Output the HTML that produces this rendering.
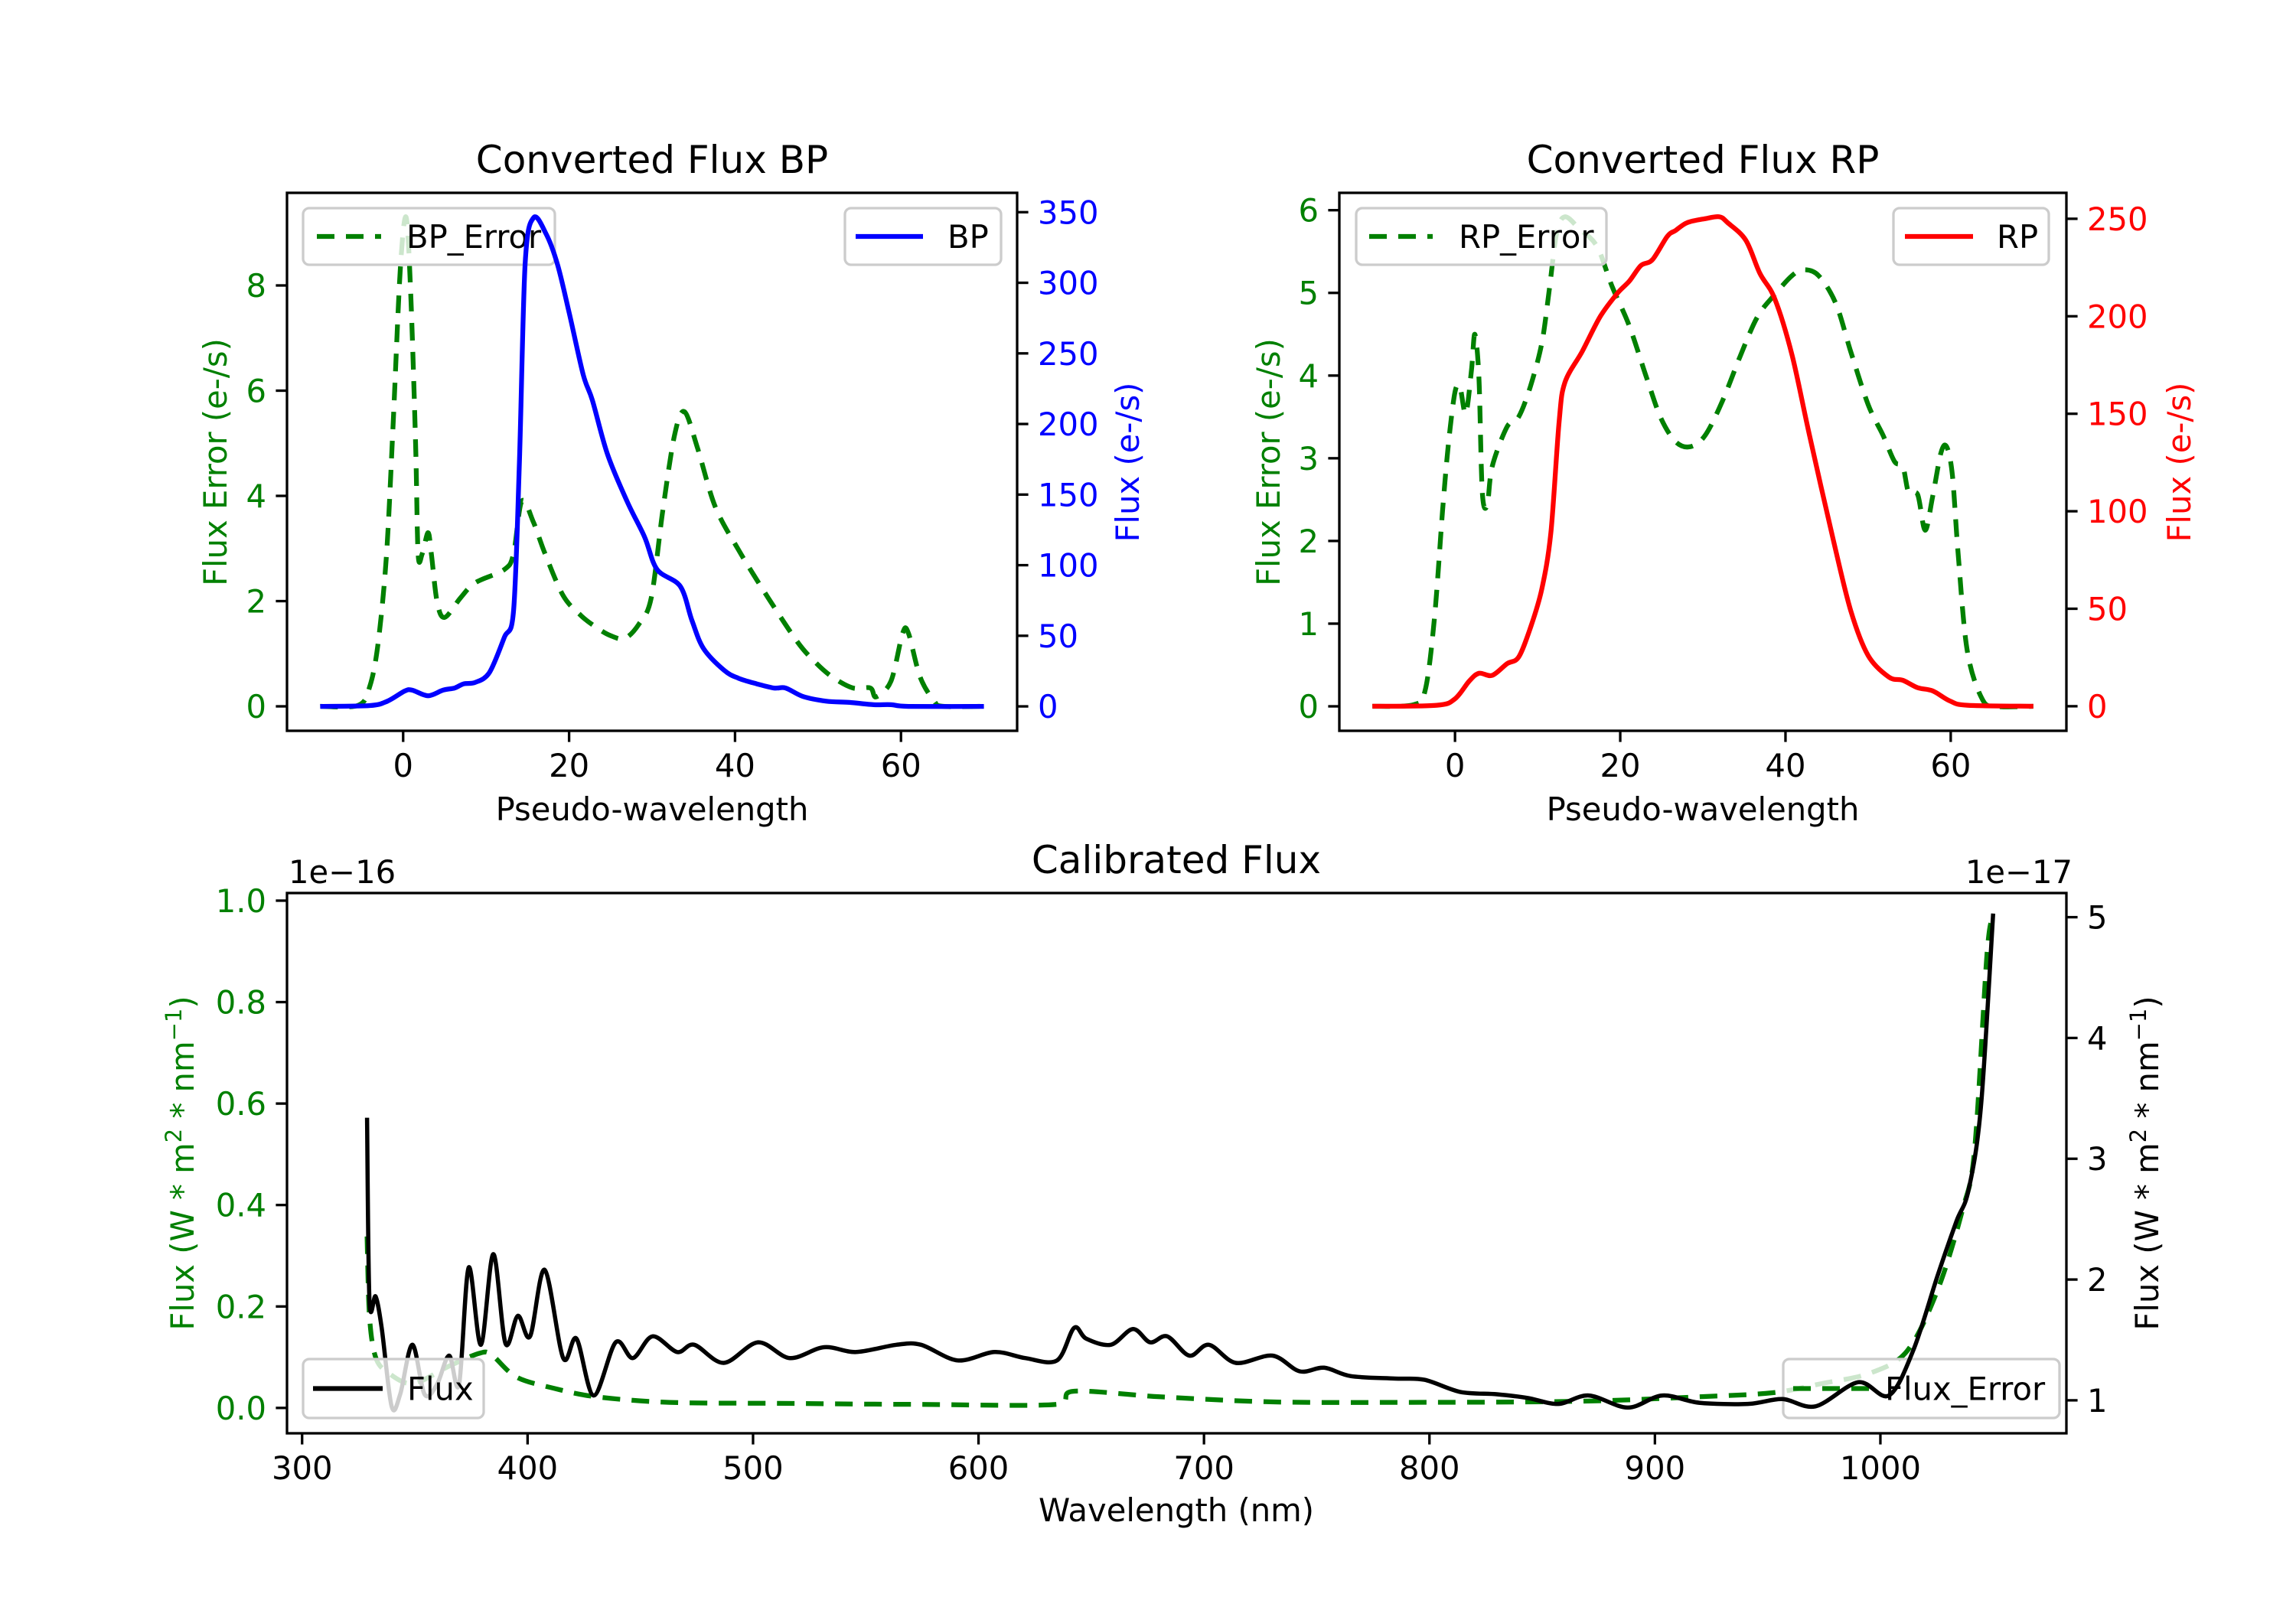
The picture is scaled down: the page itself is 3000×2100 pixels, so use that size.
<!DOCTYPE html>
<html><head><meta charset="utf-8"><style>
html,body{margin:0;padding:0;background:#fff;}
svg{display:block;font-family:"DejaVu Sans","Liberation Sans",sans-serif;}
</style></head><body>
<svg id="fig" xmlns="http://www.w3.org/2000/svg" width="3000" height="2100" viewBox="0 0 3000 2100">
<rect width="3000" height="2100" fill="#fff"/>
</svg>
<script>
// ---- BP panel data ----
const bpX = [-10,-4,-1.9,0.2,1.1,3.0,4.8,6.2,7.3,8.7,10.4,12.2,13.3,14.0,14.7,15.7,17.2,18.6,20.0,21.7,22.8,24.6,27.0,29.1,30.6,33.4,34.8,36.2,38.7,40.4,42.6,44.7,46.1,48.2,51.0,53.8,56.7,58.8,60.9,70];
const bpY = [0,0.6,3.7,10.9,11.5,7.5,11.5,13,16,17,24,49,67.5,170,313,346,335,313,279,235,217,179,145,120,97,85,61,41,25.5,20,16,13,13,7,3.7,2.8,1.2,1.2,0,0];
const bpErrX = [-10,-5.4,-4.0,-3.0,-2.0,-1.2,-0.35,0.35,0.9,1.5,1.8,2.3,3.0,3.4,4.1,5.0,6.9,8.7,12.2,13.3,14.3,15.7,17.1,19.3,21.4,23.1,24.9,26.7,28.4,29.9,31.3,32.7,33.9,35.5,37.6,40.4,44.0,47.5,49.6,51.7,54.2,56.3,57.0,58.8,60.2,60.9,62.3,64.0,65.1,70];
const bpErrY = [0,0.02,0.39,1.23,2.9,5.4,8.3,9.3,7.9,5.0,2.9,2.9,3.3,2.9,1.98,1.69,2.06,2.35,2.6,2.9,3.9,3.5,2.9,2.1,1.73,1.52,1.35,1.29,1.56,2.06,3.73,5.15,5.6,4.9,3.8,2.98,2.06,1.23,0.85,0.56,0.35,0.35,0.18,0.48,1.39,1.39,0.56,0.1,0,0];
const bpLeftTicks = [0,2,4,6,8];
const bpRightTicks = [0,50,100,150,200,250,300,350];
// ---- RP panel data ----
const rpX = [-10,-2.2,0,1.7,2.9,4.5,6.3,7.7,9.1,10.5,11.6,12.6,13.3,15.4,17.6,19.7,21.1,22.5,23.9,25.7,26.7,28.1,30.2,32.0,33.0,35.2,36.9,38.7,40.8,42.9,45.8,47.9,50.0,52.5,54.2,56.0,57.8,59.9,62.0,70];
const rpY = [0,0.5,3.8,12.8,16.9,15.8,21.8,25.2,39.9,60,89,146,166,182,200,212,218,226,229,241,244,248,250,251,248,239,222,209,180,139,85,49,26,15,13.3,9.5,7.9,2.7,0.5,0];
const rpErrX = [-10,-5.0,-3.6,-2.5,-1.5,-0.8,0,0.6,1.3,2.0,2.4,2.9,3.3,3.9,4.5,6.3,7.7,9.1,10.5,11.4,12.3,13.3,15.1,17.2,19.0,21.1,23.2,24.9,26.7,28.5,30.3,32.4,34.5,36.6,38.7,40.8,42.2,44.0,46.1,47.9,50.0,51.8,53.2,54.2,54.9,56.0,56.9,57.8,58.8,59.5,60.2,60.9,62.0,63.8,65.5,70];
const rpErrY = [0,0.02,0.2,1.05,2.37,3.17,3.8,3.86,3.54,4.07,4.5,3.97,2.59,2.43,2.9,3.38,3.5,3.86,4.39,5.03,5.72,5.92,5.77,5.56,5.08,4.6,3.97,3.49,3.2,3.14,3.28,3.7,4.23,4.71,4.98,5.21,5.28,5.21,4.87,4.29,3.65,3.28,2.96,2.9,2.59,2.56,2.13,2.53,3.06,3.14,2.8,1.84,0.67,0.09,0,0];
const rpLeftTicks = [0,1,2,3,4,5,6];
const rpRightTicks = [0,50,100,150,200,250];
const pseudoTicks = [0,20,40,60];
// ---- Calibrated panel data ----
const wlX = [328.8,329.9,332.6,335.3,339.7,343.5,348.9,354.3,359.8,365.2,369.6,373.9,379.3,384.8,390.2,395.7,401.1,407.6,415.8,421.7,429.3,439.1,446.7,455.4,466.3,473.9,487.0,502.2,516.3,531.5,545.7,563.6,574.5,590.8,607.1,620.7,634.8,642.4,647.8,658.7,668.5,676.1,683.7,693.5,702.2,714.1,730.4,742.4,753.3,765.2,784.8,797.8,813.6,829.9,843.5,857.1,870.7,888.0,903.3,919.6,941.3,956.5,971.2,990.2,1003.8,1014.7,1025.5,1033.7,1039.1,1044.6,1050.0];
const fluxY = [3.34,1.82,1.86,1.60,0.95,1.05,1.46,1.05,1.13,1.37,1.13,2.10,1.46,2.21,1.47,1.70,1.53,2.08,1.35,1.51,1.04,1.48,1.35,1.53,1.40,1.46,1.31,1.48,1.35,1.44,1.40,1.46,1.46,1.33,1.40,1.35,1.33,1.60,1.51,1.46,1.59,1.48,1.53,1.37,1.46,1.31,1.37,1.24,1.27,1.20,1.18,1.17,1.07,1.05,1.02,0.97,1.04,0.94,1.04,0.98,0.97,1.01,0.95,1.15,1.04,1.42,2.04,2.48,2.74,3.43,5.03];
const errWlX = [328.8,329.9,332.6,338,349,365,378.8,384.2,395,411.4,430.4,463,512,571.7,634.8,642.4,680.4,729.3,789,865,919.6,952.2,974,995.7,1012,1025.5,1036.4,1041.8,1047.3,1050];
const fluxErrY = [0.338,0.18,0.10,0.07,0.048,0.082,0.108,0.104,0.061,0.039,0.022,0.011,0.009,0.007,0.007,0.033,0.022,0.012,0.011,0.013,0.022,0.030,0.048,0.069,0.113,0.234,0.39,0.51,0.896,0.97];
const wlTicks = [300,400,500,600,700,800,900,1000];
const calLeftTicks = [0.0,0.2,0.4,0.6,0.8,1.0];
const calRightTicks = [1,2,3,4,5];

const NS="http://www.w3.org/2000/svg";
const svg=document.getElementById('fig');
function mk(tag,attrs,parent){const e=document.createElementNS(NS,tag);for(const k in attrs)e.setAttribute(k,attrs[k]);(parent||svg).appendChild(e);return e;}
function scale(d0,d1,p0,p1){return v=>p0+(v-d0)*(p1-p0)/(d1-d0);}
// smooth monotone-x Catmull-Rom path
function pathD(xs,ys,sx,sy){
  const P=xs.map((x,i)=>[sx(x),sy(ys[i])]);
  let d='M'+P[0][0].toFixed(1)+' '+P[0][1].toFixed(1);
  for(let i=0;i<P.length-1;i++){
    const p0=P[Math.max(0,i-1)],p1=P[i],p2=P[i+1],p3=P[Math.min(P.length-1,i+2)];
    const t=0.16;
    let c1x=p1[0]+(p2[0]-p0[0])*t,c1y=p1[1]+(p2[1]-p0[1])*t;
    let c2x=p2[0]-(p3[0]-p1[0])*t,c2y=p2[1]-(p3[1]-p1[1])*t;
    c1x=Math.min(Math.max(c1x,p1[0]),p2[0]);c2x=Math.min(Math.max(c2x,p1[0]),p2[0]);
    d+=' C'+c1x.toFixed(1)+' '+c1y.toFixed(1)+' '+c2x.toFixed(1)+' '+c2y.toFixed(1)+' '+p2[0].toFixed(1)+' '+p2[1].toFixed(1);
  }
  return d;
}
const FS=41.7;
function txt(x,y,s,opt){const t=mk('text',Object.assign({x:x,y:y,'font-size':FS,fill:'#000'},opt||{}));t.textContent=s;return t;}

function drawLegend(g,lg){
  const lgG=mk('g',{},g);
  
  
  mk('rect',{x:lg.x0,y:lg.y0,width:lg.x1-lg.x0,height:lg.y1-lg.y0,rx:8,fill:'#fff','fill-opacity':0.8,stroke:'#cccccc','stroke-width':3.3},lgG);
  const ym=(lg.y0+lg.y1)/2;
  mk('line',{x1:lg.l0,x2:lg.l1,y1:ym,y2:ym,stroke:lg.color,'stroke-width':6.25,'stroke-dasharray':lg.dash?'23 15':'none'},lgG);
  lgG.appendChild(txt(lg.tx,ym+15,lg.label,{}));
}

function panel(cfg){
  const g=mk('g',{});
  
  
  const sx=scale(cfg.xlim[0],cfg.xlim[1],cfg.L,cfg.R);
  const syL=scale(cfg.ylimL[0],cfg.ylimL[1],cfg.B,cfg.T);
  const syR=scale(cfg.ylimR[0],cfg.ylimR[1],cfg.B,cfg.T);
  const clipId='clip_'+cfg.name;
  const cp=mk('clipPath',{id:clipId},g);mk('rect',{x:cfg.L,y:cfg.T,width:cfg.R-cfg.L,height:cfg.B-cfg.T},cp);
  const errP=mk('path',{d:pathD(cfg.errX,cfg.errY,sx,syL),fill:'none',stroke:'#008000','stroke-width':6.25,'stroke-dasharray':'23 15','clip-path':'url(#'+clipId+')'},g);
  
  
  drawLegend(g,cfg.legends[0]);
  const mainP=mk('path',{d:pathD(cfg.mainX,cfg.mainY,sx,syR),fill:'none',stroke:cfg.mainColor,'stroke-width':cfg.mainW||6.25,'stroke-linejoin':'round','clip-path':'url(#'+clipId+')'},g);
  
  
  drawLegend(g,cfg.legends[1]);
  const sp=mk('rect',{x:cfg.L,y:cfg.T,width:cfg.R-cfg.L,height:cfg.B-cfg.T,fill:'none',stroke:'#000','stroke-width':3.3},g);
  
  
  cfg.xticks.forEach(v=>{const x=sx(v);mk('line',{x1:x,x2:x,y1:cfg.B,y2:cfg.B+14.6,stroke:'#000','stroke-width':3.3},g);
    const t=txt(x,cfg.B+60,String(v),{'text-anchor':'middle'});g.appendChild(t);
    
    });
  cfg.ticksL.forEach(v=>{const y=syL(v);mk('line',{x1:cfg.L-14.6,x2:cfg.L,y1:y,y2:y,stroke:'#000','stroke-width':3.3},g);
    const t=txt(cfg.L-27,y+15,cfg.fmtL(v),{'text-anchor':'end',fill:'#008000'});g.appendChild(t);
    
    });
  cfg.ticksR.forEach(v=>{const y=syR(v);mk('line',{x1:cfg.R,x2:cfg.R+14.6,y1:y,y2:y,stroke:'#000','stroke-width':3.3},g);
    const t=txt(cfg.R+27,y+15,String(v),{'text-anchor':'start',fill:cfg.rightTickColor});g.appendChild(t);
    
    });
}

panel({name:'bp-panel',L:375,R:1329,T:252,B:955,xlim:[-14,74],ylimL:[-0.465,9.76],ylimR:[-17.3,363.7],
  errX:bpErrX,errY:bpErrY,mainX:bpX,mainY:bpY,mainColor:'#0000ff',errName:'bp-error-line',mainName:'bp-line',
  xticks:pseudoTicks,ticksL:bpLeftTicks,ticksR:bpRightTicks,fmtL:v=>String(v),rightTickColor:'#0000ff',
  legends:[{x0:396,x1:725,y0:272,y1:346,l0:414,l1:498,tx:531,label:'BP_Error',color:'#008000',dash:true},
           {x0:1104,x1:1308,y0:272,y1:346,l0:1118,l1:1206,tx:1238,label:'BP',color:'#0000ff',dash:false}]});
panel({name:'rp-panel',L:1750,R:2700,T:252,B:955,xlim:[-14,74],ylimL:[-0.296,6.21],ylimR:[-12.6,263.3],
  errX:rpErrX,errY:rpErrY,mainX:rpX,mainY:rpY,mainColor:'#ff0000',errName:'rp-error-line',mainName:'rp-line',
  xticks:pseudoTicks,ticksL:rpLeftTicks,ticksR:rpRightTicks,fmtL:v=>String(v),rightTickColor:'#ff0000',
  legends:[{x0:1772,x1:2099,y0:272,y1:346,l0:1789,l1:1872,tx:1906,label:'RP_Error',color:'#008000',dash:true},
           {x0:2474,x1:2677,y0:272,y1:346,l0:2489,l1:2578,tx:2609,label:'RP',color:'#ff0000',dash:false}]});
panel({name:'calibrated-panel',L:375,R:2700,T:1167,B:1873,xlim:[293.3,1082.5],ylimL:[-0.05,1.015],ylimR:[0.727,5.2],
  errX:errWlX,errY:fluxErrY,mainX:wlX,mainY:fluxY,mainColor:'#000000',errName:'flux-error-line',mainName:'flux-line',mainW:5.5,
  xticks:wlTicks,ticksL:calLeftTicks,ticksR:calRightTicks,fmtL:v=>v.toFixed(1),rightTickColor:'#000',
  legends:[{x0:2330,x1:2691,y0:1776,y1:1853,l0:2343,l1:2447,tx:2463,label:'Flux_Error',color:'#008000',dash:true},
           {x0:396,x1:632,y0:1776,y1:1853,l0:409,l1:500,tx:532,label:'Flux',color:'#000',dash:false}]});

let t;
t=txt(852,226,'Converted Flux BP',{'text-anchor':'middle','font-size':50});


t=txt(2225,226,'Converted Flux RP',{'text-anchor':'middle','font-size':50});


t=txt(1537,1141,'Calibrated Flux',{'text-anchor':'middle','font-size':50});


t=txt(852,1072,'Pseudo-wavelength',{'text-anchor':'middle'});


t=txt(2225,1072,'Pseudo-wavelength',{'text-anchor':'middle'});


t=txt(1537,1988,'Wavelength (nm)',{'text-anchor':'middle'});


t=txt(377,1154,'1e\u221216',{});


t=txt(2708,1154,'1e\u221217',{'text-anchor':'end'});


function vlabel(x,y,s,color,name){const e=txt(0,0,s,{'text-anchor':'middle',fill:color,transform:'translate('+x+','+y+') rotate(-90)'});
  
  return e;}
vlabel(296,604,'Flux Error (e-/s)','#008000','bp-left-y-axis-title');
vlabel(1488,604,'Flux (e-/s)','#0000ff','bp-right-y-axis-title');
vlabel(1672,604,'Flux Error (e-/s)','#008000','rp-left-y-axis-title');
vlabel(2862,604,'Flux (e-/s)','#ff0000','rp-right-y-axis-title');
const l1=vlabel(253,1520,'','#008000','cal-left-y-axis-title');
l1.innerHTML='Flux (W * m<tspan dy="-16" font-size="29">2</tspan><tspan dy="16"> * nm</tspan><tspan dy="-16" font-size="29">\u22121</tspan><tspan dy="16">)</tspan>';
const l2=vlabel(2820,1520,'','#000','cal-right-y-axis-title');
l2.innerHTML='Flux (W * m<tspan dy="-16" font-size="29">2</tspan><tspan dy="16"> * nm</tspan><tspan dy="-16" font-size="29">\u22121</tspan><tspan dy="16">)</tspan>';
</script>
</body></html>
